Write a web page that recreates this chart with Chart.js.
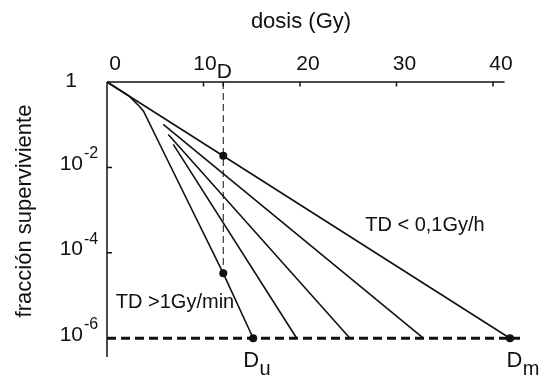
<!DOCTYPE html>
<html>
<head>
<meta charset="utf-8">
<script src="https://cdn.jsdelivr.net/npm/chart.js@4"></script>
<style>
  html, body { margin: 0; padding: 0; background: #fff; }
  #wrap { width: 542px; height: 377px; }
</style>
</head>
<body>
<div id="wrap"><canvas id="chart" width="542" height="377"></canvas></div>
<script>
// axes
const doseTicks = [0, 10, 20, 30, 40]
const survTickExp = [0, -2, -4, -6]
const doseMax = 42.8
const doseAxisEnd = 41.2
const logSurvMin = -6.44
const doseD = 12.05

// curves, y given as log10 of the surviving fraction
const lowRateDose = [0, 41.76]
const lowRateLogS = [0, -6]
const midRate1Dose = [5.83, 32.78]
const midRate1LogS = [-0.99, -6]
const midRate2Dose = [6.35, 25.18]
const midRate2LogS = [-1.23, -6]
const midRate3Dose = [6.87, 19.66]
const midRate3LogS = [-1.46, -6]
const highRateDose = [0, 2.3, 3.4, 3.8, 6.1, 12.05, 15.15]
const highRateLogS = [0, -0.33, -0.58, -0.69, -1.75, -4.48, -6]

// marked points
const dotDose = [12.05, 12.05, 15.15, 41.76]
const dotLogS = [-1.73, -4.48, -6, -6]

const ink = '#111'
const FONT = "'Liberation Sans', Arial, sans-serif"

const pts = (xs, ls) => xs.map((x, i) => ({ x: x, y: Math.pow(10, ls[i]) }))

const solid = (data) => ({
  data: data,
  showLine: true,
  borderColor: ink,
  borderWidth: 1.6,
  pointRadius: 0,
  clip: false,
})

const datasets = [
  solid(pts(lowRateDose, lowRateLogS)),
  solid(pts(midRate1Dose, midRate1LogS)),
  solid(pts(midRate2Dose, midRate2LogS)),
  solid(pts(midRate3Dose, midRate3LogS)),
  solid(pts(highRateDose, highRateLogS)),
  {
    // linea vertical en D
    data: pts([doseD, doseD], [0, dotLogS[1]]),
    showLine: true,
    borderColor: ink,
    borderWidth: 1,
    borderDash: [7, 4],
    pointRadius: 0,
    clip: false,
  },
  {
    // linea de 10^-6
    data: pts([0, doseMax], [-6, -6]),
    showLine: true,
    borderColor: ink,
    borderWidth: 3,
    borderDash: [9, 5],
    pointRadius: 0,
    clip: false,
  },
  {
    data: pts(dotDose, dotLogS),
    showLine: false,
    pointRadius: 4,
    pointBackgroundColor: ink,
    pointBorderWidth: 0,
    clip: false,
  },
]

const annotations = [
  { text: 'TD < 0,1Gy/h', dose: 32.95, logS: -3.37 },
  { text: 'TD >1Gy/min', dose: 7.05, logS: -5.17 },
]
const doseNames = [
  { sub: 'u', dose: 15.15, dx: -10 },
  { sub: 'm', dose: 41.76, dx: -3.5 },
]

const frame = {
  id: 'frame',
  beforeDatasetsDraw(chart) {
    const { ctx, chartArea } = chart
    const x = chart.scales.x
    const y = chart.scales.y
    const x0 = x.getPixelForValue(0)
    const y0 = y.getPixelForValue(1)
    ctx.save()
    ctx.strokeStyle = ink
    ctx.lineWidth = 1.5
    ctx.beginPath()
    ctx.moveTo(x0, y0)
    ctx.lineTo(x.getPixelForValue(doseAxisEnd), y0)
    ctx.moveTo(x0, y0)
    ctx.lineTo(x0, chartArea.bottom)
    doseTicks.slice(1).concat([doseD]).forEach((v) => {
      const px = x.getPixelForValue(v)
      ctx.moveTo(px, y0)
      ctx.lineTo(px, y0 + 4.5)
    })
    survTickExp.slice(1).forEach((e) => {
      const py = y.getPixelForValue(Math.pow(10, e))
      ctx.moveTo(x0, py)
      ctx.lineTo(x0 + 5, py)
    })
    ctx.stroke()
    ctx.restore()
  },
  afterDatasetsDraw(chart) {
    const { ctx } = chart
    const x = chart.scales.x
    const y = chart.scales.y
    const x0 = x.getPixelForValue(0)
    const y0 = y.getPixelForValue(1)
    ctx.save()
    ctx.fillStyle = ink
    ctx.textBaseline = 'alphabetic'

    // eje x
    ctx.font = '21px ' + FONT
    ctx.textAlign = 'center'
    const dPx = x.getPixelForValue(doseD) + 1
    const dLeft = dPx - ctx.measureText('D').width / 2
    ctx.fillText('D', dPx, y0 - 4)
    doseTicks.forEach((v) => {
      const s = String(v)
      const w = ctx.measureText(s).width
      let cx = x.getPixelForValue(v) + 8
      if (cx < dPx && cx + w / 2 > dLeft) cx = dLeft - w / 2
      ctx.fillText(s, cx, y0 - 12)
    })
    ctx.font = '22px ' + FONT
    ctx.fillText('dosis (Gy)', 301, 28)

    // eje y
    survTickExp.forEach((e) => {
      const py = y.getPixelForValue(Math.pow(10, e))
      ctx.textAlign = 'right'
      ctx.font = '21px ' + FONT
      if (e === 0) {
        ctx.fillText('1', x0 - 30, py + 5)
        return
      }
      ctx.fillText('10', x0 - 24, py + 2.5)
      ctx.textAlign = 'left'
      ctx.font = '16px ' + FONT
      ctx.fillText(String(e), x0 - 23, py - 9)
    })
    ctx.save()
    ctx.translate(25, 211)
    ctx.rotate(-Math.PI / 2)
    ctx.textAlign = 'center'
    ctx.textBaseline = 'middle'
    ctx.font = '22px ' + FONT
    ctx.fillText('fracción superviviente', 0, 0)
    ctx.restore()

    // textos
    ctx.font = '20px ' + FONT
    ctx.textAlign = 'center'
    ctx.textBaseline = 'middle'
    annotations.forEach((a) => {
      ctx.fillText(a.text, x.getPixelForValue(a.dose), y.getPixelForValue(Math.pow(10, a.logS)))
    })

    ctx.textAlign = 'left'
    ctx.textBaseline = 'alphabetic'
    const y6 = y.getPixelForValue(1e-6)
    doseNames.forEach((d) => {
      const left = x.getPixelForValue(d.dose) + d.dx
      ctx.font = '22px ' + FONT
      ctx.fillText('D', left, y6 + 28.5)
      const w = ctx.measureText('D').width
      ctx.font = '20px ' + FONT
      ctx.fillText(d.sub, left + w + 0.5, y6 + 37)
    })
    ctx.restore()
  },
}

new Chart(document.getElementById('chart'), {
  type: 'scatter',
  data: { datasets: datasets },
  options: {
    responsive: false,
    animation: false,
    layout: { padding: { left: 107, top: 82, right: 22, bottom: 20 } },
    plugins: { legend: { display: false }, tooltip: { enabled: false } },
    scales: {
      x: { type: 'linear', min: 0, max: doseMax, bounds: 'data', display: false },
      y: { type: 'logarithmic', min: Math.pow(10, logSurvMin), max: 1, bounds: 'data', display: false },
    },
  },
  plugins: [frame],
})
</script>
</body>
</html>
